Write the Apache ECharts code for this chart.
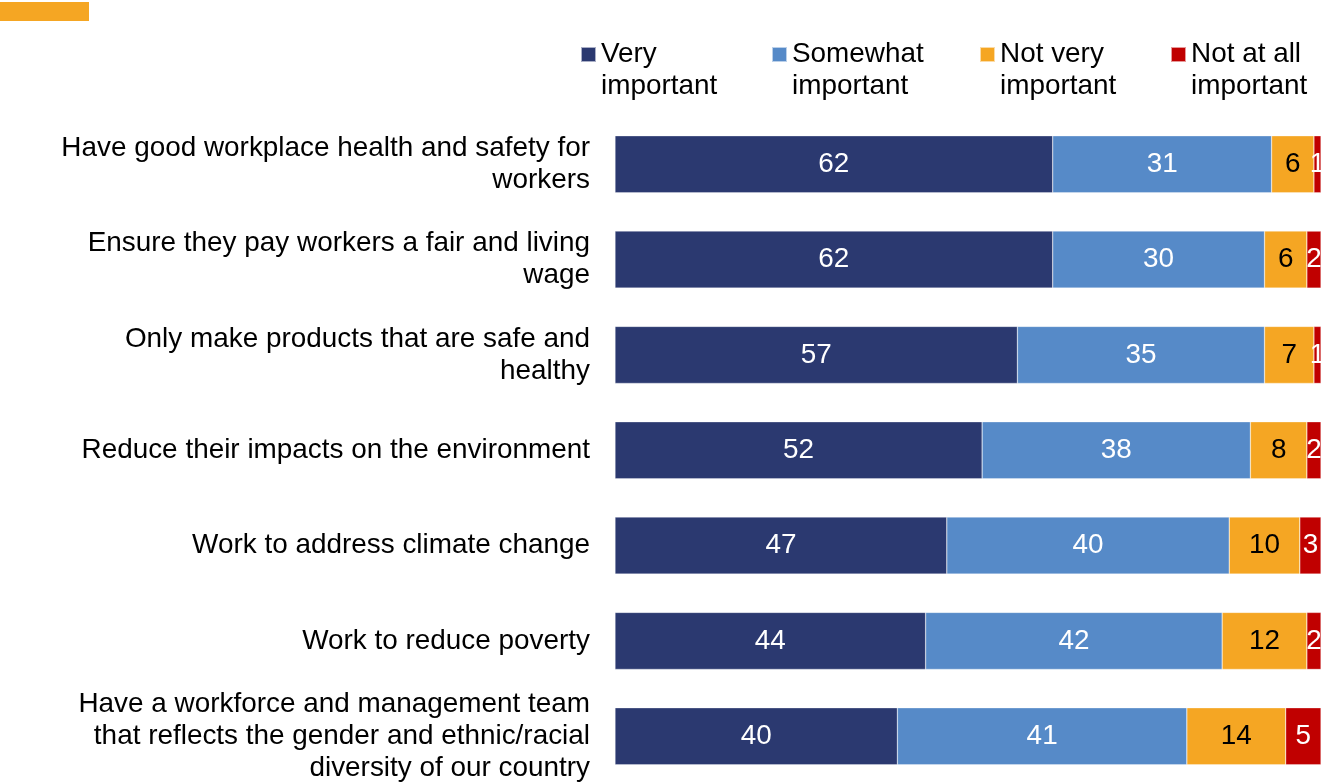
<!DOCTYPE html>
<html>
<head>
<meta charset="utf-8">
<script src="https://cdn.jsdelivr.net/npm/echarts@6/dist/echarts.min.js"></script>
<style>
  html, body { margin: 0; padding: 0; background: #ffffff; }
  #chart { width: 1326px; height: 784px; }
</style>
</head>
<body>
<div id="chart"></div>
<script>
// Statements about what companies should do, top to bottom
const categories = [
  'Have good workplace health and safety for\nworkers',
  'Ensure they pay workers a fair and living\nwage',
  'Only make products that are safe and\nhealthy',
  'Reduce their impacts on the environment',
  'Work to address climate change',
  'Work to reduce poverty',
  'Have a workforce and management team\nthat reflects the gender and ethnic/racial\ndiversity of our country'
];

// Share of respondents (%) per answer
const veryImportant     = [62, 62, 57, 52, 47, 44, 40];
const somewhatImportant = [31, 30, 35, 38, 40, 42, 41];
const notVeryImportant  = [6, 6, 7, 8, 10, 12, 14];
const notAtAllImportant = [1, 2, 1, 2, 3, 2, 5];

const seriesNames  = ['Very important', 'Somewhat important', 'Not very important', 'Not at all important'];
const legendLabels = ['Very\nimportant', 'Somewhat\nimportant', 'Not very\nimportant', 'Not at all\nimportant'];
const seriesData   = [veryImportant, somewhatImportant, notVeryImportant, notAtAllImportant];

const colors      = ['#2b3970', '#568ac8', '#f5a623', '#c00000'];
const labelColors = ['#ffffff', '#ffffff', '#000000', '#ffffff'];
const legendLeft  = [580, 771, 979, 1170];

const FONT = '"Liberation Sans", Arial, sans-serif';
const FS = 27.9;

const chart = echarts.init(document.getElementById('chart'), null, { renderer: 'canvas' });

// Each legend entry: swatch level with the first text line.
// A leading blank line keeps the first word at the block's vertical centre.
const legends = seriesNames.map((name, i) => ({
  data: [name],
  left: legendLeft[i],
  top: 6.5,
  padding: 0,
  orient: 'horizontal',
  itemWidth: 15,
  itemHeight: 15,
  icon: 'rect',
  selectedMode: false,
  formatter: () => ' \n' + legendLabels[i],
  textStyle: {
    fontFamily: FONT,
    fontSize: FS,
    color: '#000000',
    lineHeight: 32
  }
}));

const series = seriesNames.map((name, i) => ({
  name: name,
  type: 'bar',
  stack: 'total',
  barWidth: 57,
  data: seriesData[i],
  itemStyle: { color: colors[i], borderColor: 'rgba(255,255,255,0.6)', borderWidth: 0.5 },
  label: {
    show: true,
    position: 'inside',
    color: labelColors[i],
    fontFamily: FONT,
    fontSize: FS,
    overflow: 'none'
  },
  emphasis: { disabled: true },
  silent: true,
  animation: false
}));

chart.setOption({
  animation: false,
  color: colors,
  graphic: [{
    type: 'rect',
    left: 0,
    top: 2,
    shape: { width: 89, height: 19 },
    style: { fill: '#f5a623' }
  }],
  legend: legends,
  grid: { left: 615, width: 706, top: 116.6, height: 670.6, containLabel: false },
  xAxis: {
    type: 'value',
    min: 0,
    max: 100,
    show: false
  },
  yAxis: {
    type: 'category',
    inverse: true,
    data: categories,
    axisLine: { show: false },
    axisTick: { show: false },
    splitLine: { show: false },
    axisLabel: {
      margin: 25,
      align: 'right',
      fontFamily: FONT,
      fontSize: FS,
      color: '#000000',
      lineHeight: 32
    }
  },
  series: series
});
</script>
</body>
</html>
